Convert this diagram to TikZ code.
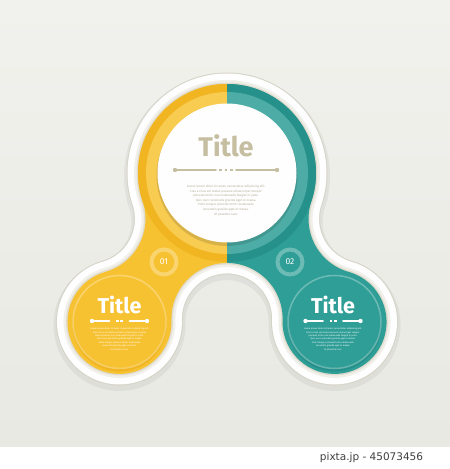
\documentclass[tikz,border=0pt]{standalone}
\usepackage{fontspec}
\setmainfont{Fira Sans}
\newfontfamily\footfont{DejaVu Sans}
\usetikzlibrary{positioning,calc}

\definecolor{bgtop}{HTML}{F1F1ED}
\definecolor{bgbot}{HTML}{E9E9E3}
\definecolor{rim}{HTML}{D6D3C7}
\definecolor{rimin}{HTML}{E0DCCF}
\definecolor{ylw}{HTML}{F7C232}
\definecolor{ylwdk}{HTML}{F1B521}
\definecolor{tl}{HTML}{2E9E96}
\definecolor{tldk}{HTML}{25918A}
\definecolor{beige}{HTML}{C6BEA0}
\definecolor{loremtxt}{HTML}{B3AC96}

% outline of the three-lobed shape, grown by #1
\newcommand\blob[1]{(227,296) ++(-18.6:{89+#1})
  arc[start angle=-18.6, end angle=198.6, radius={89+#1}]
  arc[start angle=18.6, end angle=-74.3, radius={55-#1}]
  arc[start angle=105.7, end angle=361.8, radius={52+#1}]
  arc[start angle=181.8, end angle=-1.8, radius={55.6-#1}]
  arc[start angle=178.2, end angle=434.3, radius={52+#1}]
  arc[start angle=254.3, end angle=161.4, radius={55-#1}] -- cycle}

\tikzset{
  title/.style  = {font=\bfseries\fontsize{21.5}{21.5}\selectfont, text=white, anchor=base, inner sep=0pt},
  lorem/.style  = {align=center, text=white, inner sep=0pt,
                   font=\fontsize{2.3}{3.35}\selectfont},
  badge/.style  = {circle, minimum size=25pt, inner sep=0pt, text=white,
                   font=\fontsize{8.5}{8.5}\selectfont,
                   draw=white, draw opacity=.3, line width=4pt},
  swab/.style   = {line width=1.6pt, line cap=round}
}

% dumbbell rule, #5 = offsets of the small dashes in the middle
\newcommand\decoline[5]{%
  \draw[swab, #4] (#1-#3,#2) -- (#1-10,#2);
  \draw[swab, #4] (#1+10,#2) -- (#1+#3,#2);
  \fill[#4] (#1-#3,#2) circle (2.2) (#1+#3,#2) circle (2.2);
  \foreach \dx in {#5}
    \fill[#4] ($(#1,#2)+(\dx,0)+(-1.3,-0.8)$) rectangle ++(2.6,1.6);
}

\begin{document}
\begin{tikzpicture}[x=1pt, y=1pt]
\useasboundingbox (0,0) rectangle (450,469);

% background and footer
\shade[top color=bgtop, bottom color=bgbot] (0,22) rectangle (450,469);
\fill[white] (0,0) rectangle (450,22);
\node[font=\footfont\fontsize{10.5}{10.5}\selectfont, text=black!75] (foot) at (371.5,11) {pixta.jp - 45073456};

\coordinate (T) at (227,296);
\coordinate (L) at (119.5,147);
\coordinate (R) at (334.5,147);

% white frame around the shape
\fill[black, opacity=.05, yshift=-3pt] \blob{14};
\fill[rim] \blob{11.5};
\fill[white!97!bgtop] \blob{10.5};
\fill[rimin!45!white] \blob{4};
\fill[rimin] \blob{1.5};

% left half yellow
\begin{scope}
  \clip (0,0) rectangle (227,469);
  \fill[ylw] \blob{0};
  \fill[ylwdk] (T) circle (89);
  \fill[ylw!85!white] (T) circle (81);
  \fill[ylwdk] ([yshift=-2.5pt]L) circle (47);
  \fill[ylw] (L) circle (46);
\end{scope}

% right half teal
\begin{scope}
  \clip (227,0) rectangle (450,469);
  \fill[tl] \blob{0};
  \fill[tldk] (T) circle (89);
  \fill[tl!85!white] (T) circle (81);
  \fill[tldk] ([yshift=-2.5pt]R) circle (47);
  \fill[tl] (R) circle (46);
\end{scope}

\foreach \c in {L,R}
  \draw[white, opacity=.3, line width=1.5pt] (\c) circle (46.5);

% white disc on top
\fill[black, opacity=.12] ([yshift=-2.5pt]T) circle (70.5);
\fill[white!96!bgtop] (T) circle (69.5);

% badges
\node[badge, fill=ylw] (b1) at (164,207) {01};
\node[badge, fill=tl] (b2) at (290,207) {02};

% texts
\node[title, text=beige, font=\bfseries\fontsize{27}{27}\selectfont] (t0) at (226,312) {Title};
\node[title] (t1) at (119.5,155.7) {Title};
\node[title] (t2) at (333,155.7) {Title};

\decoline{226}{299}{51}{beige}{-5.5,0,5.5}
\decoline{119.5}{148}{27.5}{white}{-2.2,2.2}
\decoline{333}{148}{27.5}{white}{-2.2,2.2}

\node[lorem, text=loremtxt, font=\fontsize{3.1}{4.6}\selectfont] (l0) at (226,268.5)
  {Lorem ipsum dolor sit amet, consectetur adipiscing elit.\\
   Cras a risus vel metus posuere ullamcorper tempor\\
   placerat tortor non malesuada feugiat in justo.\\
   Quis nunc venenatis gravida eget et massa.\\
   Proin tempor placerat tortor malesuada\\
   venenatis gravida eget et massa.\\
   Ut pharetra nunc};
\foreach \c/\x in {1/119.5, 2/333}
  \node[lorem] (l\c) at (\x,129.7)
    {Lorem ipsum dolor sit amet, consectetur adipiscing elit.\\
     Cras a risus vel metus posuere ullamcorper tempor\\
     placerat tortor non malesuada feugiat in justo.\\
     Quis nunc venenatis gravida eget et massa.\\
     Proin tempor placerat tortor malesuada\\
     venenatis gravida eget et massa.\\
     Ut pharetra nunc};
\end{tikzpicture}
\end{document}
